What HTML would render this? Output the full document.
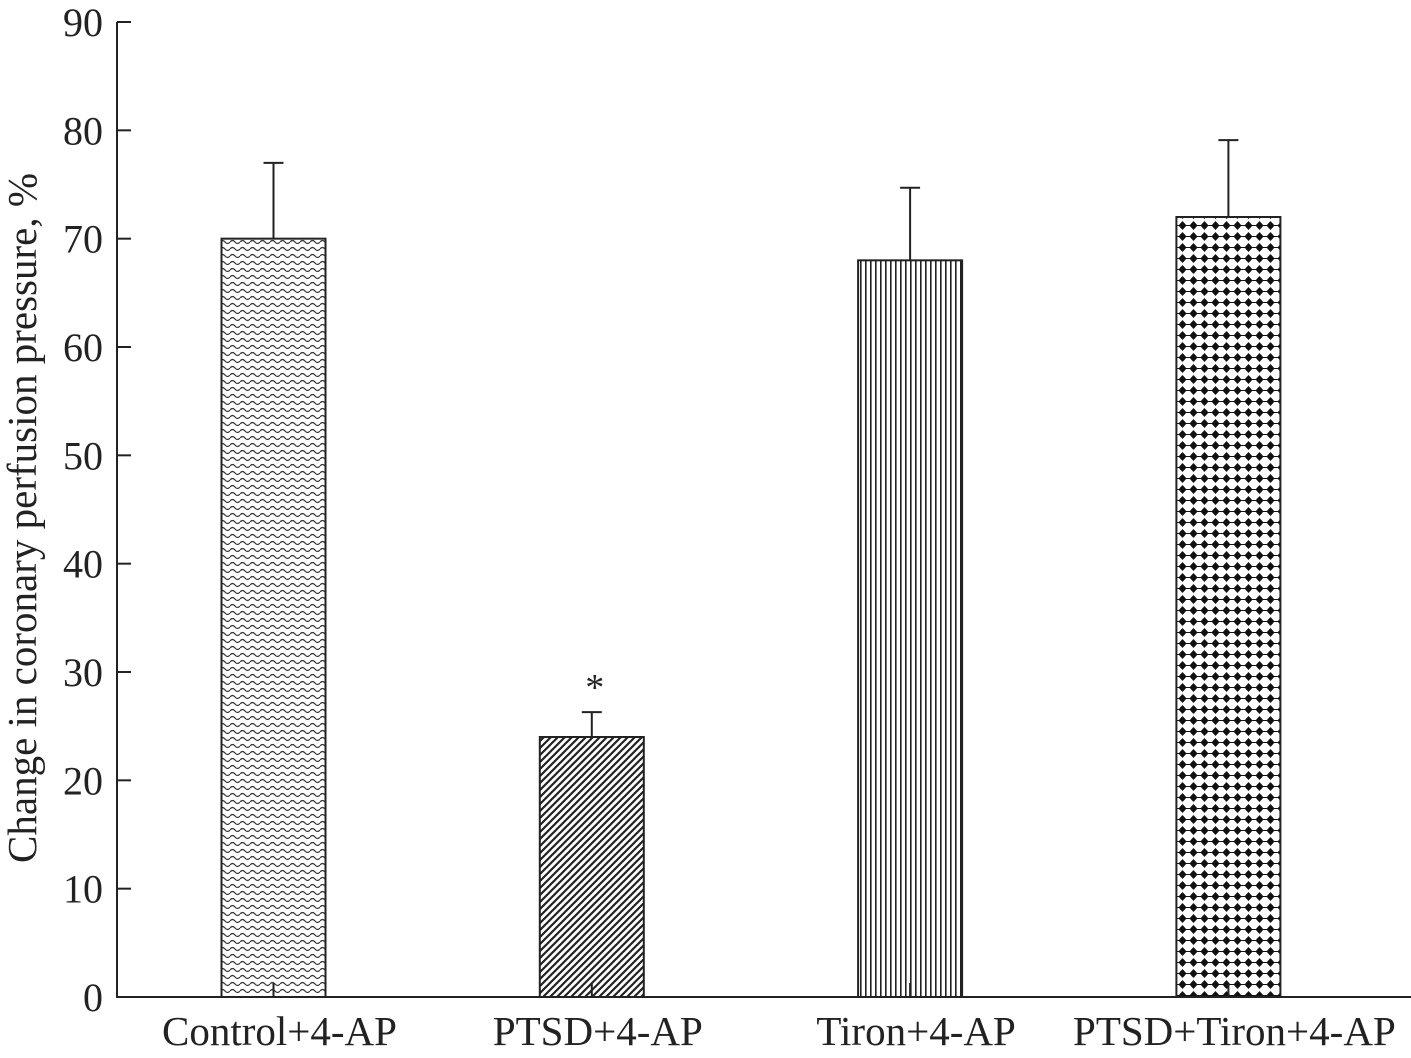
<!DOCTYPE html>
<html><head><meta charset="utf-8"><style>
html,body{margin:0;padding:0;background:#fff;}
svg{display:block;font-family:"Liberation Serif",serif;}
</style></head><body>
<svg id="chart" width="1411" height="1058" viewBox="0 0 1411 1058">
<defs>
<pattern id="pWave" width="10" height="7" patternUnits="userSpaceOnUse"><path d="M0 4 Q2.5 1 5 4 T10 4" fill="none" stroke="#333" stroke-width="1.2"/></pattern>
<pattern id="pDiag" width="7" height="7" patternUnits="userSpaceOnUse"><path d="M-1 8 L8 -1 M-2 2 L2 -2 M5 9 L9 5" stroke="#222" stroke-width="2.2"/></pattern>
<pattern id="pVert" width="5" height="10" patternUnits="userSpaceOnUse"><rect x="0" y="0" width="1.6" height="10" fill="#222"/></pattern>
<pattern id="pDots" width="11" height="11" patternUnits="userSpaceOnUse"><path d="M5.5 1 L9.5 5.5 L5.5 10 L1.5 5.5Z" fill="#111"/><circle cx="5.5" cy="5.5" r="3" fill="#111"/><rect x="0" y="5" width="11" height="1" fill="#111"/></pattern>
</defs>
<g id="plot"></g>
<text transform="translate(36,518) rotate(-90)" text-anchor="middle" font-size="41" fill="#222">Change in coronary perfusion pressure, %</text>
</svg>
<script>
const categories=["Control+4-AP","PTSD+4-AP","Tiron+4-AP","PTSD+Tiron+4-AP"];
const values=[70,24,68,72];
const errors=[7,2.3,6.7,7.1];
const patterns=["pWave","pDiag","pVert","pDots"];
const significance=["","*","",""];
const yTicks=[0,10,20,30,40,50,60,70,80,90];
const NS="http://www.w3.org/2000/svg";
const g=document.getElementById('plot');
const y=v=>997-v*(975/90);
const x=i=>273.5+i*318.3;
const bw=104;
function mk(t,a){const e=document.createElementNS(NS,t);for(const k in a)e.setAttribute(k,a[k]);g.appendChild(e);return e;}
let e;
e=mk('line',{x1:117,y1:22,x2:117,y2:998,stroke:'#222','stroke-width':2});


e=mk('line',{x1:116,y1:997,x2:1411,y2:997,stroke:'#222','stroke-width':2});


yTicks.forEach(t=>{
  e=mk('line',{x1:117,y1:y(t),x2:131,y2:y(t),stroke:'#222','stroke-width':2});
  
  
  e=mk('text',{x:103,y:y(t)+14,'text-anchor':'end','font-size':40,fill:'#222'});
  e.textContent=t;
  
  
});
categories.forEach((c,i)=>{
  const cx=x(i);
  e=mk('line',{x1:cx,y1:y(values[i]),x2:cx,y2:y(values[i]+errors[i]),stroke:'#222','stroke-width':2});
  
  
  e=mk('line',{x1:cx-10,y1:y(values[i]+errors[i]),x2:cx+10,y2:y(values[i]+errors[i]),stroke:'#222','stroke-width':2});
  
  
  e=mk('rect',{x:cx-bw/2,y:y(values[i]),width:bw,height:y(0)-y(values[i]),fill:'url(#'+patterns[i]+')',stroke:'#222','stroke-width':2});
  
  
  e=mk('line',{x1:cx,y1:997,x2:cx,y2:983,stroke:'#222','stroke-width':2});
  
  
  e=mk('text',{x:cx+6,y:1045,'text-anchor':'middle','font-size':41,fill:'#222'});
  e.textContent=c;
  
  
  if(significance[i]){
    e=mk('text',{x:cx+3,y:y(values[i]+errors[i])-12,'text-anchor':'middle','font-size':38,fill:'#222'});
    e.textContent=significance[i];
    
    
  }
});
</script>
</body></html>
